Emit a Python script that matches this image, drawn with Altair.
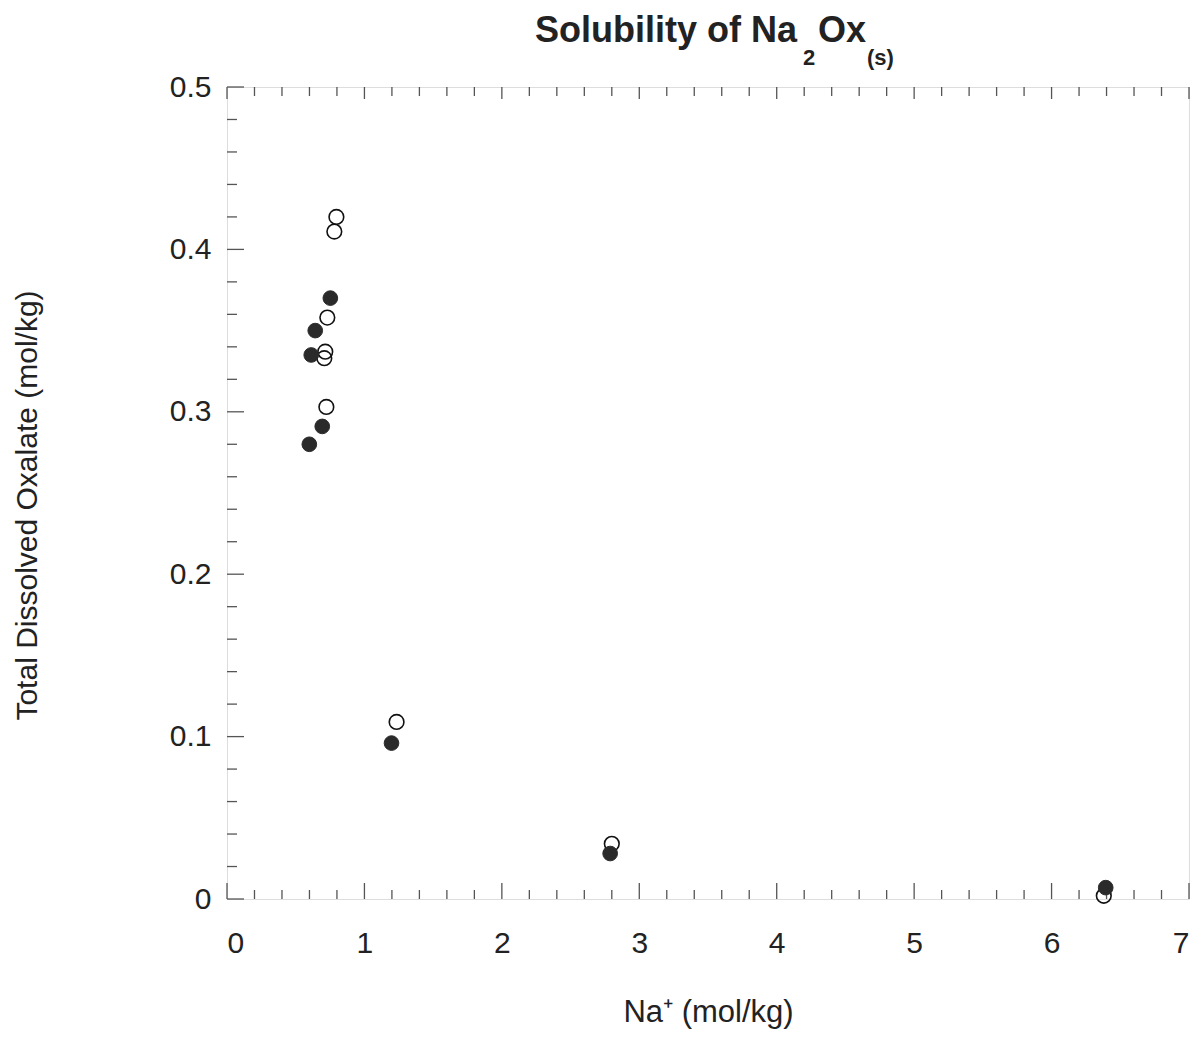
import altair as alt
import pandas as pd

# ---- data ----
x_open = [0.796, 0.781, 0.730, 0.715, 0.708, 0.723, 1.234, 2.800, 6.380]
y_open = [0.420, 0.411, 0.358, 0.337, 0.333, 0.303, 0.109, 0.034, 0.002]
x_filled = [0.752, 0.642, 0.613, 0.693, 0.599, 1.197, 2.788, 6.394]
y_filled = [0.370, 0.350, 0.335, 0.291, 0.280, 0.096, 0.028, 0.007]

x_major = [0, 1, 2, 3, 4, 5, 6, 7]
x_minor = [0.2, 0.4, 0.6, 0.8, 1.2, 1.4, 1.6, 1.8, 2.2, 2.4, 2.6, 2.8,
           3.2, 3.4, 3.6, 3.8, 4.2, 4.4, 4.6, 4.8, 5.2, 5.4, 5.6, 5.8,
           6.2, 6.4, 6.6, 6.8]
y_major = [0, 0.1, 0.2, 0.3, 0.4, 0.5]
y_minor = [0.02, 0.04, 0.06, 0.08, 0.12, 0.14, 0.16, 0.18, 0.22, 0.24,
           0.26, 0.28, 0.32, 0.34, 0.36, 0.38, 0.42, 0.44, 0.46, 0.48]

W, H = 962, 812
FONT = "Liberation Sans"

xs = alt.Scale(domain=[0, 7], nice=False, zero=False)
ys = alt.Scale(domain=[0, 0.5], nice=False, zero=False)

xaxis = alt.Axis(values=x_major, format="~g", ticks=False, domain=False, grid=False,
                 labelFontSize=30, labelFont=FONT, labelColor="#222", labelPadding=29,
                 title="Na⁺ (mol/kg)", titleFont=FONT, titleFontSize=31,
                 titleFontWeight="normal", titleColor="#222",
                 titleX=W / 2, titleY=122, titleBaseline="alphabetic", titleAnchor="middle")
yaxis = alt.Axis(values=y_major, format="~g", ticks=False, domain=False, grid=False,
                 labelFontSize=30, labelFont=FONT, labelColor="#222", labelPadding=16,
                 title="Total Dissolved Oxalate (mol/kg)", titleFont=FONT, titleFontSize=30,
                 titleFontWeight="normal", titleColor="#222",
                 titleX=-191, titleY=418, titleBaseline="alphabetic", titleAnchor="middle",
                 titleAngle=270)

df_open = pd.DataFrame({"x": x_open, "y": y_open})
df_filled = pd.DataFrame({"x": x_filled, "y": y_filled})

open_pts = alt.Chart(df_open).mark_point(
    shape="circle", size=215, filled=False, stroke="#111", strokeWidth=1.6, opacity=1
).encode(x=alt.X("x:Q", scale=xs, axis=xaxis), y=alt.Y("y:Q", scale=ys, axis=yaxis))

filled_pts = alt.Chart(df_filled).mark_point(
    shape="circle", size=215, filled=True, fill="#2a2a2a", stroke="#2a2a2a", strokeWidth=1, opacity=1
).encode(x=alt.X("x:Q", scale=xs), y=alt.Y("y:Q", scale=ys))

tick_color = "#555"

def xticks(vals, y0, y1):
    return alt.Chart(pd.DataFrame({"v": vals})).mark_rule(color=tick_color, strokeWidth=1.3).encode(
        x=alt.X("v:Q", scale=xs), y=alt.value(y0), y2=alt.value(y1))

def yticks(vals, x0, x1):
    return alt.Chart(pd.DataFrame({"v": vals})).mark_rule(color=tick_color, strokeWidth=1.3).encode(
        y=alt.Y("v:Q", scale=ys), x=alt.value(x0), x2=alt.value(x1))

tick_layers = [
    xticks(x_major, H, H - 16),
    xticks(x_minor, H, H - 9),
    xticks(x_major, 0, 12),
    xticks(x_minor, 0, 9),
    yticks(y_major, 0, 17),
    yticks(y_minor, 0, 10),
]

def title_piece(text, x, y, size, align):
    return alt.Chart(pd.DataFrame({"t": [text]})).mark_text(
        font=FONT, fontSize=size, fontWeight="bold", color="#222", align=align,
        baseline="alphabetic"
    ).encode(text="t:N", x=alt.value(x), y=alt.value(y))

title_layers = [
    title_piece("Solubility of Na", 570, -45, 36, "right"),
    title_piece("2", 576, -22, 22, "left"),
    title_piece("Ox", 591, -45, 36, "left"),
    title_piece("(s)", 640, -22, 22, "left"),
]

chart = alt.layer(*tick_layers, open_pts, filled_pts, *title_layers).properties(
    width=W, height=H,
    autosize=alt.AutoSizeParams(type="none"),
    padding={"left": 219, "top": 79, "right": 4, "bottom": 131},
).configure_view(stroke="#444", strokeWidth=1.5).configure(background="white")

chart.save("out.html", embed_options={"renderer": "svg", "actions": False})
